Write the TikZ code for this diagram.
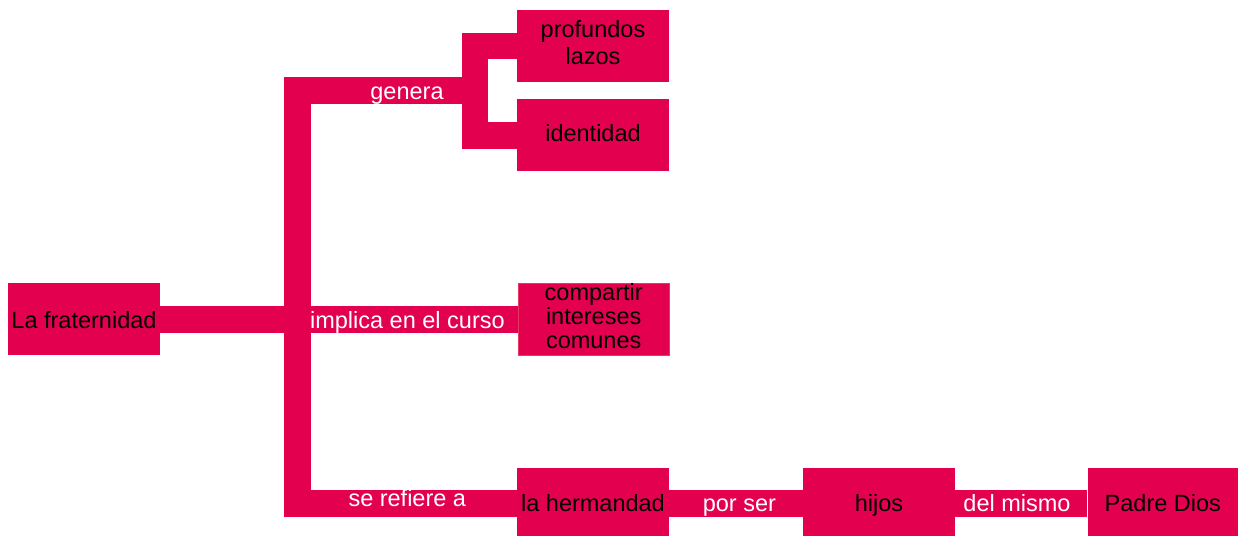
\documentclass[tikz,border=0pt]{standalone}
\usepackage{fontspec}
\setmainfont{Liberation Sans}
\definecolor{crim}{HTML}{E3004F}
\definecolor{crimedge}{HTML}{E8385F}
\newcommand\fsz{\fontsize{23.5}{24}\selectfont}
\tikzset{
  box/.style={fill=crim, draw=none, inner sep=0pt, text=black, font=\fsz},
  one/.style={box, text height=19pt, text depth=0pt},
  multi/.style={box},
  bar/.style={draw=crim, line width=26.5pt, line join=miter},
  lab/.style={text=white, font=\fsz, inner sep=0pt, anchor=base}
}
\begin{document}
\begin{tikzpicture}[x=1pt,y=-1pt]
\useasboundingbox (0,0) rectangle (1238,536);
% boxes
\node[one, minimum width=152pt, minimum height=72pt] (frat) at (84,319.4) {La fraternidad};
\node[multi, minimum width=152pt, minimum height=72pt] (prof) at (593,46.2) {\begin{tabular}{@{}c@{}}profundos\\[2.7pt]lazos\end{tabular}};
\node[one, text height=13pt, minimum width=152pt, minimum height=72pt] (ident) at (593,135.3) {identidad};
\node[multi, minimum width=151pt, minimum height=72pt, draw=crimedge, line width=0.8pt] (comp) at (593.7,319.4) {\begin{tabular}{@{}c@{}}compartir\\intereses\\comunes\end{tabular}};
\node[one, minimum width=152pt, minimum height=68pt] (herm) at (593,502) {la hermandad};
\node[one, minimum width=152pt, minimum height=68pt] (hijos) at (879,502) {hijos};
\node[one, minimum width=150.4pt, minimum height=68pt] (padre) at (1162.8,502) {Padre Dios};
% junction points
\coordinate (tt) at (297.7,90.7);
\coordinate (tb) at (297.7,503.3);
\coordinate (br) at (474.8,90.7);
% connectors
\draw[bar] (br) -- (tt) -- (tb) -- (herm.west |- tb);
\draw[bar] (frat.east) -- (comp.west);
\draw[bar] (prof.west) -| (br) |- (ident.west);
\draw[bar] (herm.east |- tb) -- (hijos.west |- tb);
\draw[bar] (hijos.east |- tb) -- (padre.west |- tb);
% labels
\node[lab] (lgen) at (407,99) {genera};
\node[lab] (limp) at (407.4,328.3) {implica en el curso};
\node[lab] (lref) at (407.3,506.7) {se refiere a};
\node[lab] (lpor) at (739.4,511.7) {por ser};
\node[lab] (ldel) at (1017,511.7) {del mismo};
\end{tikzpicture}
\end{document}
